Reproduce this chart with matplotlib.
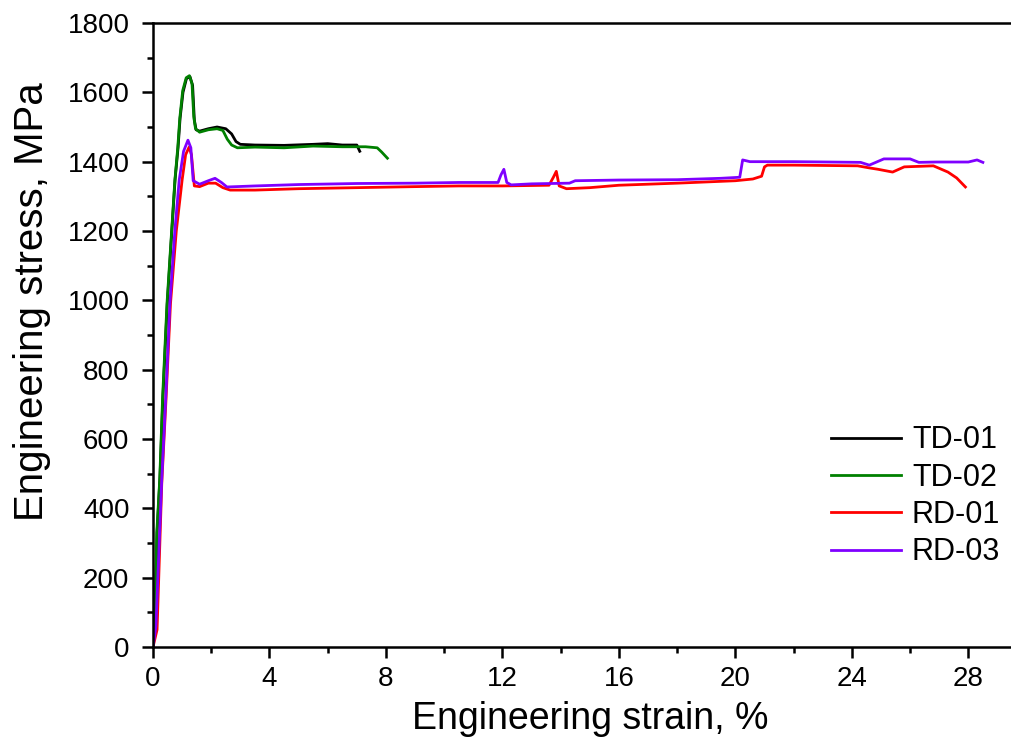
import matplotlib
matplotlib.use("Agg")
import matplotlib.pyplot as plt
from matplotlib.ticker import MultipleLocator

plt.rcParams['font.family'] = ['Liberation Sans', 'DejaVu Sans']

# TD-01 (black)
td01_strain = [0, 0.07, 0.14, 0.24, 0.34, 0.49, 0.65, 0.76, 0.86, 0.93, 1.03, 1.15, 1.27, 1.36, 1.42,
               1.48, 1.6, 1.9, 2.2, 2.5, 2.7, 2.85, 3.0, 3.5, 4.5, 5.5, 6.0, 6.5, 7.0, 7.1]
td01_stress = [0, 60, 330, 490, 720, 990, 1205, 1350, 1440, 1525, 1600, 1640, 1645, 1620, 1520,
               1492, 1488, 1495, 1500, 1495, 1480, 1458, 1450, 1448, 1447, 1450, 1452, 1448, 1448, 1430]

# TD-02 (green)
td02_strain = [0, 0.06, 0.13, 0.23, 0.33, 0.48, 0.64, 0.75, 0.85, 0.92, 1.02, 1.14, 1.25, 1.34, 1.4,
               1.46, 1.6, 1.9, 2.2, 2.4, 2.55, 2.7, 2.9, 3.5, 4.5, 5.5, 6.5, 7.3, 7.7, 7.85, 8.05]
td02_stress = [0, 50, 330, 480, 720, 990, 1200, 1345, 1440, 1525, 1605, 1642, 1648, 1625, 1530,
               1495, 1485, 1492, 1495, 1490, 1465, 1448, 1440, 1442, 1440, 1445, 1443, 1443, 1440, 1428, 1410]

# RD-01 (red)
rd01_strain = [0, 0.14, 0.3, 0.45, 0.6, 0.8, 1.0, 1.12, 1.24, 1.32, 1.42, 1.6, 1.9, 2.15, 2.4, 2.65,
               3.5, 5, 7, 9, 10.5, 12, 13.6, 13.75, 13.85, 13.95, 14.2, 15, 16, 18, 20, 20.6, 20.9,
               21.0, 21.1, 22, 24.2, 24.6, 24.9, 25.4, 25.8, 26.8, 27.3, 27.6, 27.9]
rd01_stress = [0, 50, 470, 720, 990, 1200, 1347, 1420, 1442, 1420, 1330, 1328, 1338, 1338, 1325, 1318,
               1318, 1322, 1325, 1328, 1330, 1330, 1332, 1355, 1372, 1330, 1322, 1325, 1332, 1338, 1345,
               1350, 1358, 1385, 1390, 1390, 1388, 1382, 1378, 1370, 1385, 1388, 1370, 1353, 1327]

# RD-03 (purple)
rd03_strain = [0, 0.1, 0.3, 0.45, 0.58, 0.75, 0.9, 1.05, 1.2, 1.3, 1.38, 1.6, 1.9, 2.13, 2.35, 2.54,
               3.5, 5, 7, 9, 10.5, 11.85, 11.95, 12.05, 12.15, 12.3, 13, 14.3, 14.5, 16, 18, 19.5,
               20.15, 20.25, 20.5, 22, 24.3, 24.6, 25.1, 26, 26.3, 26.9, 28.0, 28.3, 28.5]
rd03_stress = [0, 60, 482, 740, 992, 1200, 1347, 1430, 1462, 1440, 1345, 1335, 1345, 1352, 1340, 1327,
               1330, 1334, 1337, 1338, 1340, 1340, 1362, 1378, 1340, 1333, 1336, 1338, 1345, 1347, 1348,
               1352, 1355, 1405, 1400, 1400, 1398, 1390, 1408, 1408, 1398, 1399, 1399, 1405, 1398]

fig = plt.figure(figsize=(10.12, 7.51), dpi=100)
ax = fig.add_axes([153 / 1012, 104 / 751, 859 / 1012, 624 / 751])

lw = 2.0
ax.plot(td01_strain, td01_stress, color='black', lw=lw, label='TD-01')
ax.plot(td02_strain, td02_stress, color='#008000', lw=lw, label='TD-02')
ax.plot(rd01_strain, rd01_stress, color='#ff0000', lw=lw, label='RD-01')
ax.plot(rd03_strain, rd03_stress, color='#7f00ff', lw=lw, label='RD-03')

ax.set_xlim(0, 29.5)
ax.set_ylim(0, 1800)
ax.xaxis.set_major_locator(MultipleLocator(4))
ax.xaxis.set_minor_locator(MultipleLocator(2))
ax.yaxis.set_major_locator(MultipleLocator(200))
ax.yaxis.set_minor_locator(MultipleLocator(100))

for s in ['left', 'bottom', 'top']:
    ax.spines[s].set_linewidth(1.8)
ax.spines['right'].set_visible(False)
ax.tick_params(which='major', direction='out', length=8, width=1.8, labelsize=20, pad=6)
ax.tick_params(axis='y', which='major', pad=9)
ax.tick_params(which='minor', direction='out', length=4, width=1.8)
ax.tick_params(top=False, right=False, which='both')

ax.set_xlabel('Engineering strain, %', fontsize=27, labelpad=6)
ax.set_ylabel('Engineering stress, MPa', fontsize=29, labelpad=12)
ax.xaxis.label.set_x(0.509)
ax.yaxis.label.set_y(0.553)

ax.legend(loc='upper left', bbox_to_anchor=(0.775, 0.375), frameon=False, fontsize=22,
          handlelength=2.3, handletextpad=0.35, labelspacing=0.24, borderaxespad=0)

fig.savefig('out.png', dpi=100)
